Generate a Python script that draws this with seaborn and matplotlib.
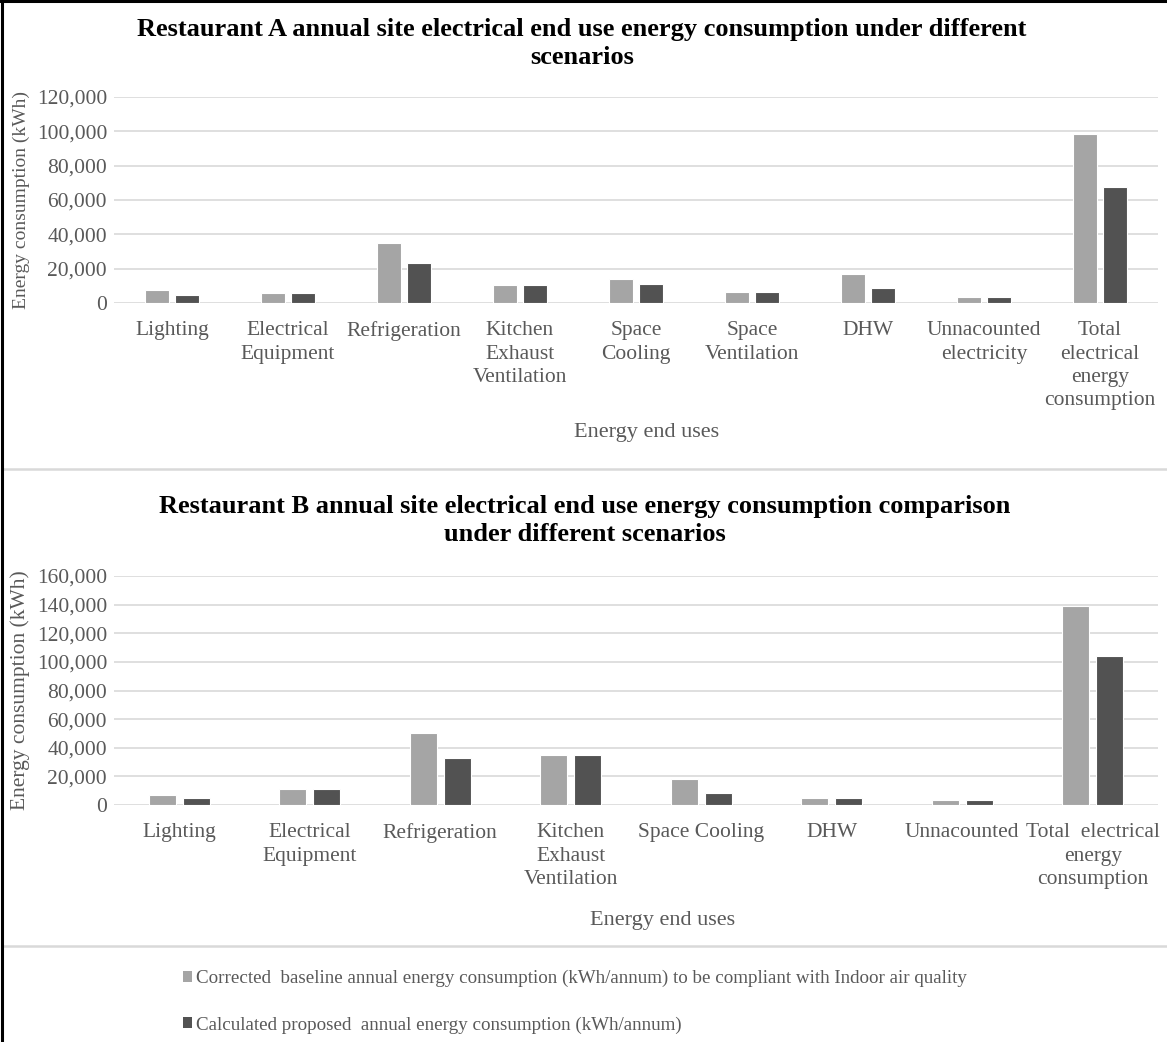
import numpy as np
import pandas as pd
import matplotlib
matplotlib.use("Agg")
import matplotlib.pyplot as plt
import seaborn as sns
from matplotlib.patches import Patch
from matplotlib.lines import Line2D
from matplotlib.ticker import FuncFormatter

# ---------------- data ----------------
series_names = [
    "Corrected  baseline annual energy consumption (kWh/annum) to be compliant with Indoor air quality",
    "Calculated proposed  annual energy consumption (kWh/annum)",
]

a_categories = ["Lighting", "Electrical\nEquipment", "Refrigeration",
                "Kitchen\nExhaust\nVentilation", "Space\nCooling", "Space\nVentilation",
                "DHW", "Unnacounted\nelectricity", "Total\nelectrical\nenergy\nconsumption"]
a_baseline = [7400, 5600, 35200, 10300, 13900, 6600, 16800, 3700, 98700]
a_proposed = [4700, 5600, 23200, 10300, 11200, 6600, 8500, 3700, 67800]

b_categories = ["Lighting", "Electrical\nEquipment", "Refrigeration",
                "Kitchen\nExhaust\nVentilation", "Space Cooling", "DHW",
                "Unnacounted", "Total  electrical\nenergy\nconsumption"]
b_baseline = [7000, 11400, 50500, 35100, 18100, 4900, 3700, 139100]
b_proposed = [4900, 11400, 32800, 35100, 8100, 4900, 3700, 104200]

title_a = "Restaurant A annual site electrical end use energy consumption under different\nscenarios"
title_b = "Restaurant B annual site electrical end use energy consumption comparison\nunder different scenarios"
x_label = "Energy end uses"
y_label = "Energy consumption (kWh)"
a_yticks = [0, 20000, 40000, 60000, 80000, 100000, 120000]
b_yticks = [0, 20000, 40000, 60000, 80000, 100000, 120000, 140000, 160000]

colors = ["#A5A5A5", "#525252"]
grid_color = "#D9D9D9"
text_color = "#595959"

sns.set_style("white")
plt.rcParams["font.family"] = ["Liberation Serif", "DejaVu Serif"]

W, H = 1167, 1042
fig = plt.figure(figsize=(W / 100, H / 100), dpi=100)


def fx(px):
    return px / W


def fy(py):
    return 1 - py / H


def make_df(cats, base, prop):
    return pd.DataFrame({
        "Category": cats * 2,
        "Scenario": [series_names[0]] * len(cats) + [series_names[1]] * len(cats),
        "Value": list(base) + list(prop),
    })


def draw(ax, cats, base, prop, yticks, ylab_size, xlab_pad):
    df = make_df(cats, base, prop)
    sns.barplot(data=df, x="Category", y="Value", hue="Scenario", order=cats,
                hue_order=series_names, palette=colors, width=0.52, gap=0.2,
                edgecolor="white", linewidth=0.8, legend=False, ax=ax, zorder=3)
    ax.set_ylim(0, yticks[-1])
    ax.set_xlim(-0.5, len(cats) - 0.5)
    ax.set_yticks(yticks)
    ax.yaxis.set_major_formatter(FuncFormatter(lambda v, p: f"{int(v):,}"))
    ax.grid(axis="y", color=grid_color, linewidth=1.2, zorder=0)
    ax.grid(axis="x", visible=False)
    for s in ax.spines.values():
        s.set_visible(False)
    ax.tick_params(axis="both", length=0, colors=text_color)
    ax.tick_params(axis="y", labelsize=15.5, pad=5)
    ax.tick_params(axis="x", labelsize=15.5, pad=13)
    for lab in ax.get_xticklabels():
        lab.set_linespacing(1.32)
        lab.set_verticalalignment("top")
        lab.set_horizontalalignment("center")
    ax.set_xlabel(x_label, fontsize=16, color=text_color, labelpad=xlab_pad)
    ax.set_ylabel(y_label, fontsize=ylab_size, color=text_color, labelpad=5)


# top chart
ax1 = fig.add_axes([fx(114), fy(303), fx(1158) - fx(114), (303 - 97) / H])
draw(ax1, a_categories, a_baseline, a_proposed, a_yticks, 14, 9)
ax1.xaxis.label.set_position((0.51, 0))
fig.text(fx(582), fy(18), title_a, ha="center", va="top", fontsize=19,
         fontweight="bold", linespacing=1.3, color="black")

# bottom chart
ax2 = fig.add_axes([fx(114), fy(805), fx(1158) - fx(114), (805 - 576) / H])
draw(ax2, b_categories, b_baseline, b_proposed, b_yticks, 15.5, 16)
ax2.xaxis.label.set_position((0.525, 0))
fig.text(fx(585), fy(495), title_b, ha="center", va="top", fontsize=19,
         fontweight="bold", linespacing=1.3, color="black")

# separators
fig.add_artist(Line2D([fx(3), 1], [fy(469), fy(469)], transform=fig.transFigure,
                      color=grid_color, linewidth=1.8))
fig.add_artist(Line2D([fx(3), 1], [fy(946), fy(946)], transform=fig.transFigure,
                      color=grid_color, linewidth=1.8))
# border (top + left)
fig.add_artist(Line2D([0, 1], [fy(1), fy(1)], transform=fig.transFigure,
                      color="black", linewidth=2.2))
fig.add_artist(Line2D([fx(1.5), fx(1.5)], [0, 1], transform=fig.transFigure,
                      color="black", linewidth=2.2))

# legend
handles = [Patch(facecolor=c, edgecolor="none") for c in colors]
fig.legend(handles, series_names, loc="upper left",
           bbox_to_anchor=(fx(175), fy(962)), frameon=False, fontsize=13.7,
           handlelength=0.5, handleheight=0.5, handletextpad=0.2,
           labelspacing=1.55, labelcolor=text_color, borderaxespad=0)

fig.savefig("out.png", dpi=100, facecolor="white")
